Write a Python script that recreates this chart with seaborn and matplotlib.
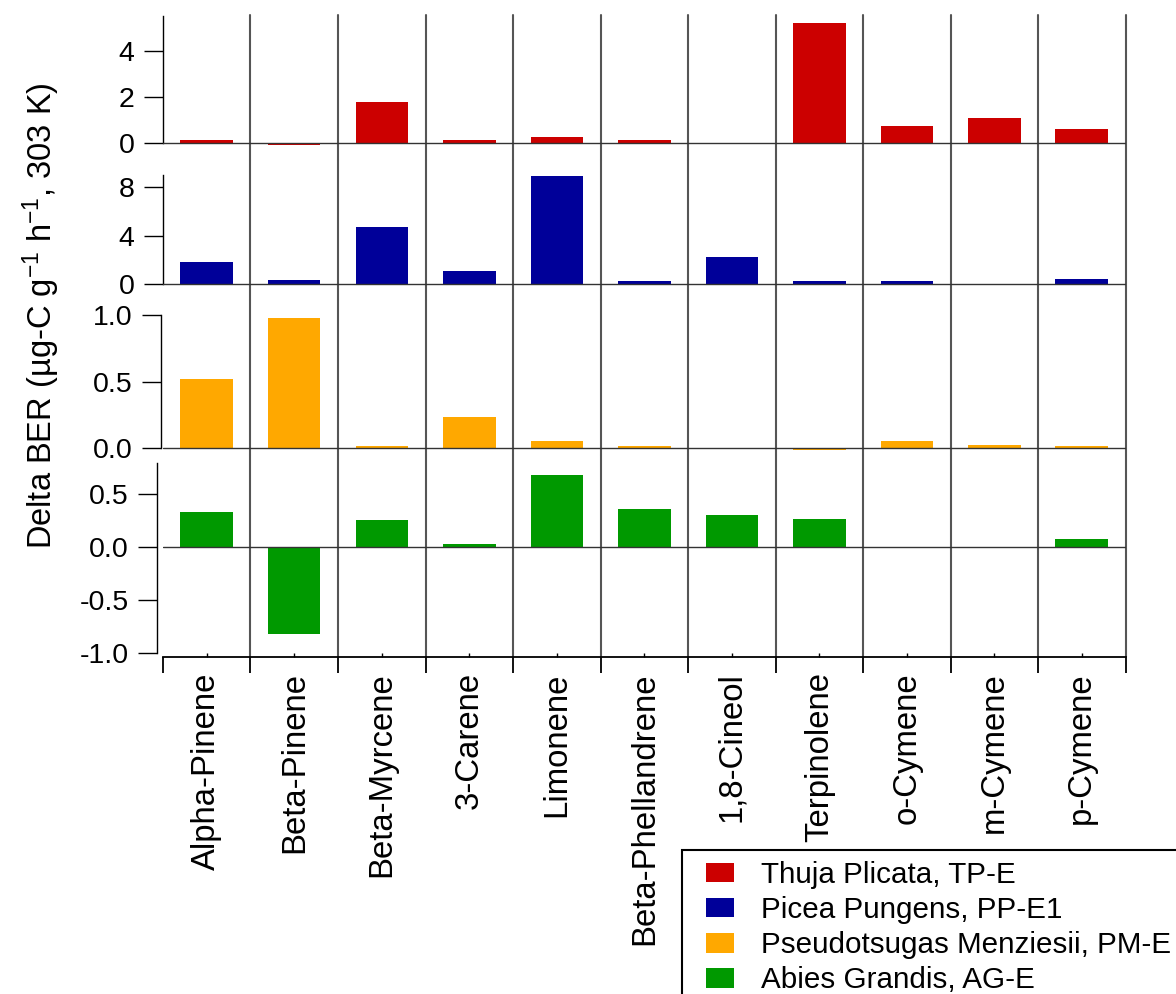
import matplotlib
matplotlib.use("Agg")
import matplotlib.pyplot as plt
from matplotlib.patches import Patch, Rectangle
from matplotlib.ticker import FixedLocator, FormatStrFormatter
import seaborn as sns

sns.set_theme(style="ticks")
plt.rcParams["font.family"] = ["Liberation Sans", "DejaVu Sans"]
plt.rcParams["mathtext.fontset"] = "custom"
plt.rcParams["mathtext.rm"] = "Liberation Sans"
plt.rcParams["mathtext.default"] = "regular"
plt.rcParams["axes.unicode_minus"] = False
plt.rcParams["text.color"] = "black"

compounds = ["Alpha-Pinene", "Beta-Pinene", "Beta-Myrcene", "3-Carene", "Limonene",
             "Beta-Phellandrene", "1,8-Cineol", "Terpinolene", "o-Cymene", "m-Cymene",
             "p-Cymene"]

# delta BER per tree (ug-C g-1 h-1, 303 K)
thuja = [0.15, -0.07, 1.8, 0.12, 0.28, 0.12, 0.0, 5.2, 0.72, 1.08, 0.61]
picea = [1.8, 0.33, 4.7, 1.05, 8.9, 0.25, 2.2, 0.25, 0.25, 0.0, 0.41]
pseudo = [0.52, 0.975, 0.015, 0.233, 0.055, 0.015, 0.0, -0.012, 0.053, 0.023, 0.015]
abies = [0.33, -0.82, 0.255, 0.03, 0.68, 0.36, 0.30, 0.267, 0.0, 0.0, 0.08]

labels = ["Thuja Plicata, TP-E", "Picea Pungens, PP-E1",
          "Pseudotsugas Menziesii, PM-E", "Abies Grandis, AG-E"]
colors = ["#CC0000", "#000099", "#FFA800", "#009900"]

W, H = 1176, 994
fig = plt.figure(figsize=(W / 100, H / 100), dpi=100)

# pixel layout of the stacked panels: (top, bottom, ylim, spine bounds, ticks, fmt, outward)
panels = [
    (15, 160, (-0.739, 5.565), (0, 5.52), [0, 2, 4], "%d", 0),
    (160, 300, (-1.32, 10.25), (0, 9.0), [0, 4, 8], "%d", 0),
    (300, 455, (-0.0526, 1.113), (0, 1.0), [0.0, 0.5, 1.0], "%.1f", 1.5),
    (455, 657, (-1.038, 0.868), (-1.0, 0.79), [-1.0, -0.5, 0.0, 0.5], "%.1f", 4),
]
series = [thuja, picea, pseudo, abies]

left, right = 163, 1125.5
axes = []
for i, (top, bot, ylim, bounds, ticks, fmt, outward) in enumerate(panels):
    ax = fig.add_axes([left / W, 1 - bot / H, (right - left) / W, (bot - top) / H])
    sns.barplot(x=compounds, y=series[i], color=colors[i], width=0.6, saturation=1,
                edgecolor="none", ax=ax, zorder=3)
    ax.set_xlim(-0.5, len(compounds) - 0.5)
    ax.set_ylim(*ylim)
    ax.axhline(0, color="#333333", lw=1.0, zorder=4)
    for k in range(len(compounds)):
        ax.axvline(k + 0.5, color="#555555", lw=1.5, zorder=2, clip_on=False)
    for s in ["top", "right", "bottom"]:
        ax.spines[s].set_visible(False)
    ax.spines["left"].set_bounds(*bounds)
    ax.spines["left"].set_position(("outward", outward))
    ax.spines["left"].set_color("black")
    ax.spines["left"].set_linewidth(1.0)
    ax.yaxis.set_major_locator(FixedLocator(ticks))
    ax.yaxis.set_major_formatter(FormatStrFormatter(fmt))
    ax.tick_params(axis="y", direction="out", length=13.5, width=1.0, pad=7,
                   labelsize=20.5, colors="black")
    ax.set_xlabel("")
    ax.set_ylabel("")
    ax.patch.set_alpha(0)
    if i < 3:
        ax.tick_params(axis="x", bottom=False, labelbottom=False)
    axes.append(ax)

# bottom category axis
ax = axes[-1]
ax.spines["bottom"].set_visible(True)
ax.spines["bottom"].set_color("black")
ax.spines["bottom"].set_linewidth(1.3)
ax.set_xticks(range(len(compounds)))
ax.set_xticklabels(compounds, rotation=90, fontsize=23.7)
ax.set_xticks([k - 0.5 for k in range(len(compounds) + 1)], minor=True)
ax.tick_params(axis="x", which="major", direction="in", length=3, width=1.0, pad=11,
               colors="black")
ax.tick_params(axis="x", which="minor", direction="out", length=11.5, width=1.3,
               colors="black")

fig.text(41 / W, 1 - 316 / H, r"Delta BER (µg-C g$^{-1}$ h$^{-1}$, 303 K)",
         rotation=90, ha="center", va="center", fontsize=23.5)

# legend box running off the figure edge
fig.patches.append(Rectangle((682 / W, -0.05), 0.5, 1 - 850 / H + 0.05,
                             transform=fig.transFigure, facecolor="white",
                             edgecolor="black", lw=1.5, zorder=5))
handles = [Patch(facecolor=c, edgecolor="none") for c in colors]
leg = fig.legend(handles, labels, loc="upper left", bbox_to_anchor=(706 / W, 1 - 861 / H),
                 frameon=False, fontsize=21.3, borderpad=0, borderaxespad=0,
                 handlelength=0.95, handleheight=0.64, handletextpad=0.9,
                 labelspacing=0.24)
leg.set_zorder(6)

fig.savefig("out.png", dpi=100)
